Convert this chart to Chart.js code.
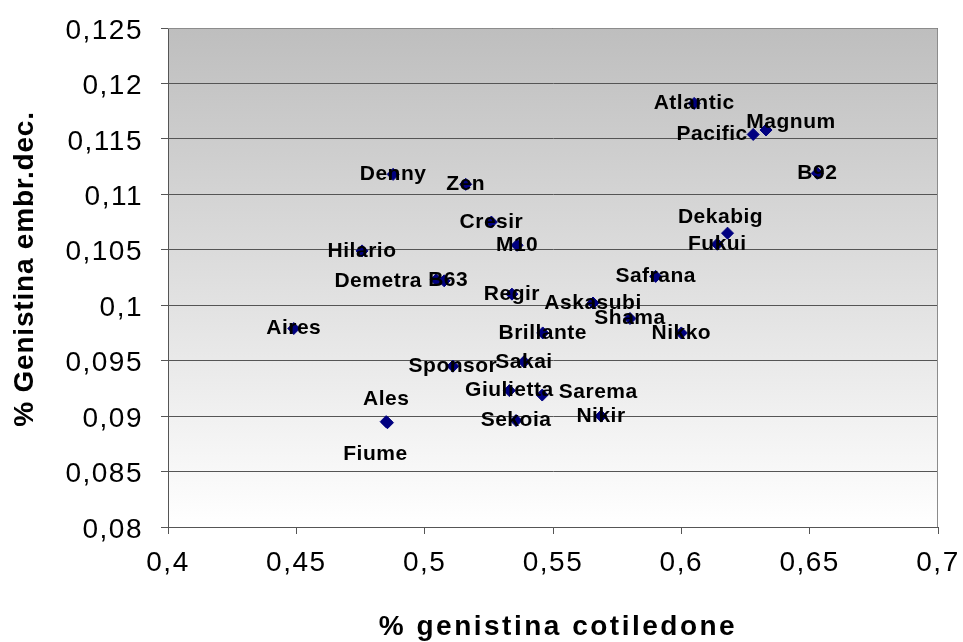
<!DOCTYPE html>
<html>
<head>
<meta charset="utf-8">
<script src="https://cdn.jsdelivr.net/npm/chart.js@4"></script>
<style>
  body { margin: 0; background: #fff; }
  canvas { display: block; }
</style>
</head>
<body>
<canvas id="scatter-chart" width="963" height="642"></canvas>
<script>
/*------------------------ DATA ---------------------------------*/

const varieties = ['Atlantic', 'Magnum', 'Pacific', 'B92', 'Denny', 'Zen', 'Cresir', 'Dekabig', 'Fukui', 'M10',
    'Hilario', 'Safrana', 'Demetra', 'B63', 'Regir', 'Askasubi', 'Shama', 'Aires', 'Brillante', 'Nikko',
    'Sakai', 'Sponsor', 'Giulietta', 'Sarema', 'Nikir', 'Sekoia', 'Ales', 'Fiume']
const cotyledon = [0.605, 0.633, 0.628, 0.653, 0.4877, 0.516, 0.526, 0.618, 0.614, 0.536,
    0.4756, 0.590, 0.5045, 0.5076, 0.534, 0.5656, 0.580, 0.449, 0.546, 0.600,
    0.5387, 0.511, 0.533, 0.5458, 0.5687, 0.5356, 0.485, 0.4855]
const embryo = [0.1182, 0.1158, 0.1154, 0.1119, 0.1118, 0.1109, 0.1075, 0.1065, 0.1055, 0.1054,
    0.1049, 0.1026, 0.1023, 0.1022, 0.1010, 0.1002, 0.0988, 0.0979, 0.0975, 0.0975,
    0.0949, 0.0945, 0.0923, 0.0919, 0.0900, 0.0896, 0.0895, 0.0894]

const xTicks = [0.4, 0.45, 0.5, 0.55, 0.6, 0.65, 0.7]
const yTicks = [0.08, 0.085, 0.09, 0.095, 0.1, 0.105, 0.11, 0.115, 0.12, 0.125]

const xTitle = '% genistina cotiledone'
const yTitle = '% Genistina embr.dec.'

// label nudges (px) where the original labels are not centred on the point
const labelShift = {
    Magnum: [25, -8], Pacific: [-41, 0], Dekabig: [-7, -16], Demetra: [-58, 1],
    B63: [4, -1], Sarema: [56, -3], Ales: [0, -22], Fiume: [-12, 31]
}

/*------------------------ CHART ---------------------------------*/

const FONT = "'Liberation Sans', Arial, sans-serif"
const comma = v => String(Math.round(v * 1000) / 1000).replace('.', ',')

const points = varieties.map((name, i) => ({ x: cotyledon[i], y: embryo[i], name }))

const decor = {
    id: 'decor',
    beforeDraw(chart) {
        const { ctx, chartArea: a } = chart
        const g = ctx.createLinearGradient(0, a.top, 0, a.bottom)
        g.addColorStop(0, '#bebebe')
        g.addColorStop(1, '#ffffff')
        ctx.save()
        ctx.fillStyle = g
        ctx.fillRect(a.left, a.top, a.right - a.left, a.bottom - a.top)
        ctx.restore()
        ctx.letterSpacing = '1.5px'
    },
    afterDatasetsDraw(chart) {
        const { ctx, chartArea: a } = chart
        ctx.save()
        ctx.strokeStyle = '#8c8c8c'
        ctx.lineWidth = 1
        ctx.beginPath()
        ctx.moveTo(a.left, a.top + 0.5)
        ctx.lineTo(a.right - 0.5, a.top + 0.5)
        ctx.lineTo(a.right - 0.5, a.bottom)
        ctx.stroke()

        // data labels
        const meta = chart.getDatasetMeta(0)
        ctx.font = `bold 21px ${FONT}`
        ctx.letterSpacing = '0.5px'
        ctx.fillStyle = '#000'
        ctx.textAlign = 'center'
        ctx.textBaseline = 'middle'
        meta.data.forEach((el, i) => {
            const s = labelShift[varieties[i]] || [0, 0]
            ctx.fillText(varieties[i], el.x + s[0], el.y + s[1])
        })

        // axis titles
        ctx.font = `bold 28px ${FONT}`
        ctx.letterSpacing = '2.5px'
        ctx.textBaseline = 'alphabetic'
        ctx.fillText(xTitle, 558, 635)
        ctx.translate(33, 269)
        ctx.rotate(-Math.PI / 2)
        ctx.letterSpacing = '0.8px'
        ctx.fillText(yTitle, 0, 0)
        ctx.restore()
    }
}

const scatterCanvas = document.querySelector('#scatter-chart').getContext('2d')

const scatterChart = new Chart(scatterCanvas, {
    type: 'scatter',
    data: {
        datasets: [{
            label: 'Genistina',
            data: points,
            pointStyle: 'rectRot',
            pointRadius: 6,
            pointBorderWidth: 1,
            backgroundColor: '#000080',
            borderColor: '#000080'
        }]
    },
    options: {
        responsive: false,
        animation: false,
        layout: { padding: { top: 28, right: 25, left: 0, bottom: 0 } },
        plugins: {
            legend: { display: false },
            tooltip: { enabled: false }
        },
        scales: {
            x: {
                type: 'linear',
                min: 0.4,
                max: 0.7,
                afterBuildTicks: s => { s.ticks = xTicks.map(v => ({ value: v })) },
                afterFit: s => { s.height = 115; s.paddingLeft = 0; s.paddingRight = 0 },
                ticks: {
                    autoSkip: false,
                    maxRotation: 0,
                    padding: 12,
                    color: '#000',
                    font: { family: FONT, size: 28 },
                    callback: v => comma(v)
                },
                grid: { drawOnChartArea: false, drawTicks: true, tickLength: 7, color: '#555' },
                border: { display: true, color: '#555', width: 1 }
            },
            y: {
                type: 'linear',
                min: 0.08,
                max: 0.125,
                afterBuildTicks: s => { s.ticks = yTicks.map(v => ({ value: v })) },
                afterFit: s => { s.width = 168; s.paddingTop = 0; s.paddingBottom = 0 },
                ticks: {
                    autoSkip: false,
                    padding: 18,
                    labelOffset: 3,
                    color: '#000',
                    font: { family: FONT, size: 28 },
                    callback: v => comma(v)
                },
                grid: { color: '#555', drawTicks: true, tickLength: 7, tickColor: '#555' },
                border: { display: true, color: '#555', width: 1 }
            }
        }
    },
    plugins: [decor]
})
</script>
</body>
</html>
